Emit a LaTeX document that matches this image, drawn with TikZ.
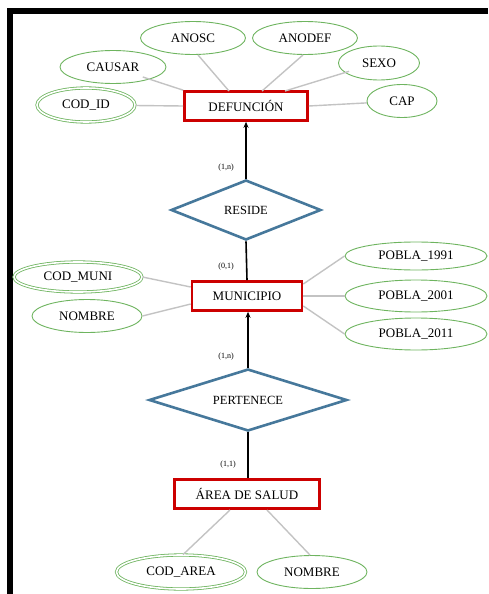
\documentclass[tikz,border=0pt]{standalone}
\usepackage{fontspec}
\setmainfont{Liberation Serif}
\usetikzlibrary{positioning, arrows.meta, shapes.geometric}
\definecolor{entred}{RGB}{204,0,0}
\definecolor{attgreen}{RGB}{110,180,95}
\definecolor{relblue}{RGB}{70,120,155}
\definecolor{linkgray}{RGB}{195,195,195}

\tikzset{
  entidad/.style={draw=entred, line width=2.6pt, fill=white, minimum height=29, inner xsep=10pt, font=\fontsize{13}{15}\selectfont},
  atributo/.style={ellipse, draw=attgreen, line width=0.9pt, fill=white, inner sep=0pt, font=\fontsize{13}{15}\selectfont},
  clave/.style={atributo, double=white, double distance=1.6pt, line width=0.8pt},
  relacion/.style={diamond, draw=relblue, line width=2.6pt, fill=white, inner sep=0pt},
  reltexto/.style={font=\fontsize{12.5}{14}\selectfont},
  enlace/.style={draw=linkgray, line width=1.4pt},
  rol/.style={draw=black, line width=1.6pt},
  card/.style={font=\fontsize{8}{9}\selectfont}
}

\begin{document}
\begin{tikzpicture}[x=1pt, y=-1pt]
        \useasboundingbox (0,0) rectangle (488,594);
        % Marco
        \draw[line width=6pt, line join=miter] (10,594) -- (10,11) -- (488,11);

        % Entidades
        \node[entidad, minimum width=123] (defuncion) at (246,106) {DEFUNCIÓN};
        \node[entidad, minimum width=110] (municipio) at (247,296) {MUNICIPIO};
        \node[entidad, minimum width=145] (area) at (247,494) {ÁREA DE SALUD};

        % Relaciones
        \node[relacion, minimum width=150, minimum height=60, label={[reltexto]center:RESIDE}] (reside) at (246,210) {};
        \node[relacion, minimum width=198, minimum height=62, label={[reltexto]center:PERTENECE}] (pertenece) at (248,400) {};

        % Atributos de defuncion
        \node[clave, minimum width=98, minimum height=34] (codid) at (86,105) {COD\_ID};
        \node[atributo, minimum width=106, minimum height=33] (causar) at (113,67) {CAUSAR};
        \node[atributo, minimum width=105, minimum height=33] (anosc) at (193,38) {ANOSC};
        \node[atributo, minimum width=105, minimum height=33] (anodef) at (305,38) {ANODEF};
        \node[atributo, minimum width=81, minimum height=34] (sexo) at (379,63) {SEXO};
        \node[atributo, minimum width=70, minimum height=33] (cap) at (402,101) {CAP};

        % Atributos de municipio
        \node[clave, minimum width=128, minimum height=30] (codmuni) at (78,277) {COD\_MUNI};
        \node[atributo, minimum width=110, minimum height=33] (nombremun) at (87,316) {NOMBRE};
        \node[atributo, minimum width=142, minimum height=28] (pobla91) at (416,256) {POBLA\_1991};
        \node[atributo, minimum width=142, minimum height=32] (pobla01) at (416,296) {POBLA\_2001};
        \node[atributo, minimum width=142, minimum height=32] (pobla11) at (416,334) {POBLA\_2011};

        % Atributos de area
        \node[clave, minimum width=129, minimum height=34] (codarea) at (181,572) {COD\_AREA};
        \node[atributo, minimum width=110, minimum height=33] (nombrearea) at (312,572) {NOMBRE};

        % Enlaces de atributos
        \draw[enlace] (codid) -- (defuncion.west);
        \draw[enlace] (causar.south east) ++(-8,-2) -- (defuncion.north west);
        \draw[enlace] (anosc.south) ++(5,0) -- (229,91);
        \draw[enlace] (anodef.south) ++(-2,0) -- (262,91);
        \draw[enlace] (sexo.south west) ++(-1,-4) -- (285,91);
        \draw[enlace] (cap) -- (defuncion.east);

        \draw[enlace] (codmuni.east) -- (municipio.west |- 0,287);
        \draw[enlace] (nombremun.east) -- (municipio.west |- 0,304);
        \draw[enlace] (pobla91.west) -- (municipio.east |- 0,284);
        \draw[enlace] (pobla01) -- (municipio.east);
        \draw[enlace] (pobla11.west) -- (municipio.east |- 0,306);

        \draw[enlace] (codarea.north) ++(2,0) -- (230,510);
        \draw[enlace] (nombrearea.north) ++(-2,0) -- (267,510);

        % Roles y cardinalidades
        \draw[rol, -{Stealth[length=6pt, width=5pt]}] (reside.north) -- (defuncion.south);
        \node[card] (c1) at (226,168) {(1,n)};
        \draw[rol] (reside.south) -- (municipio.north);
        \node[card] (c2) at (226,267) {(0,1)};
        \draw[rol, -{Stealth[length=6pt, width=5pt]}] (pertenece.north) -- (municipio.south -| pertenece.north);
        \node[card] (c3) at (226,357) {(1,n)};
        \draw[rol] (pertenece.south) -- (area.north -| pertenece.south);
        \node[card] (c4) at (228,465) {(1,1)};
    \end{tikzpicture}
\end{document}
